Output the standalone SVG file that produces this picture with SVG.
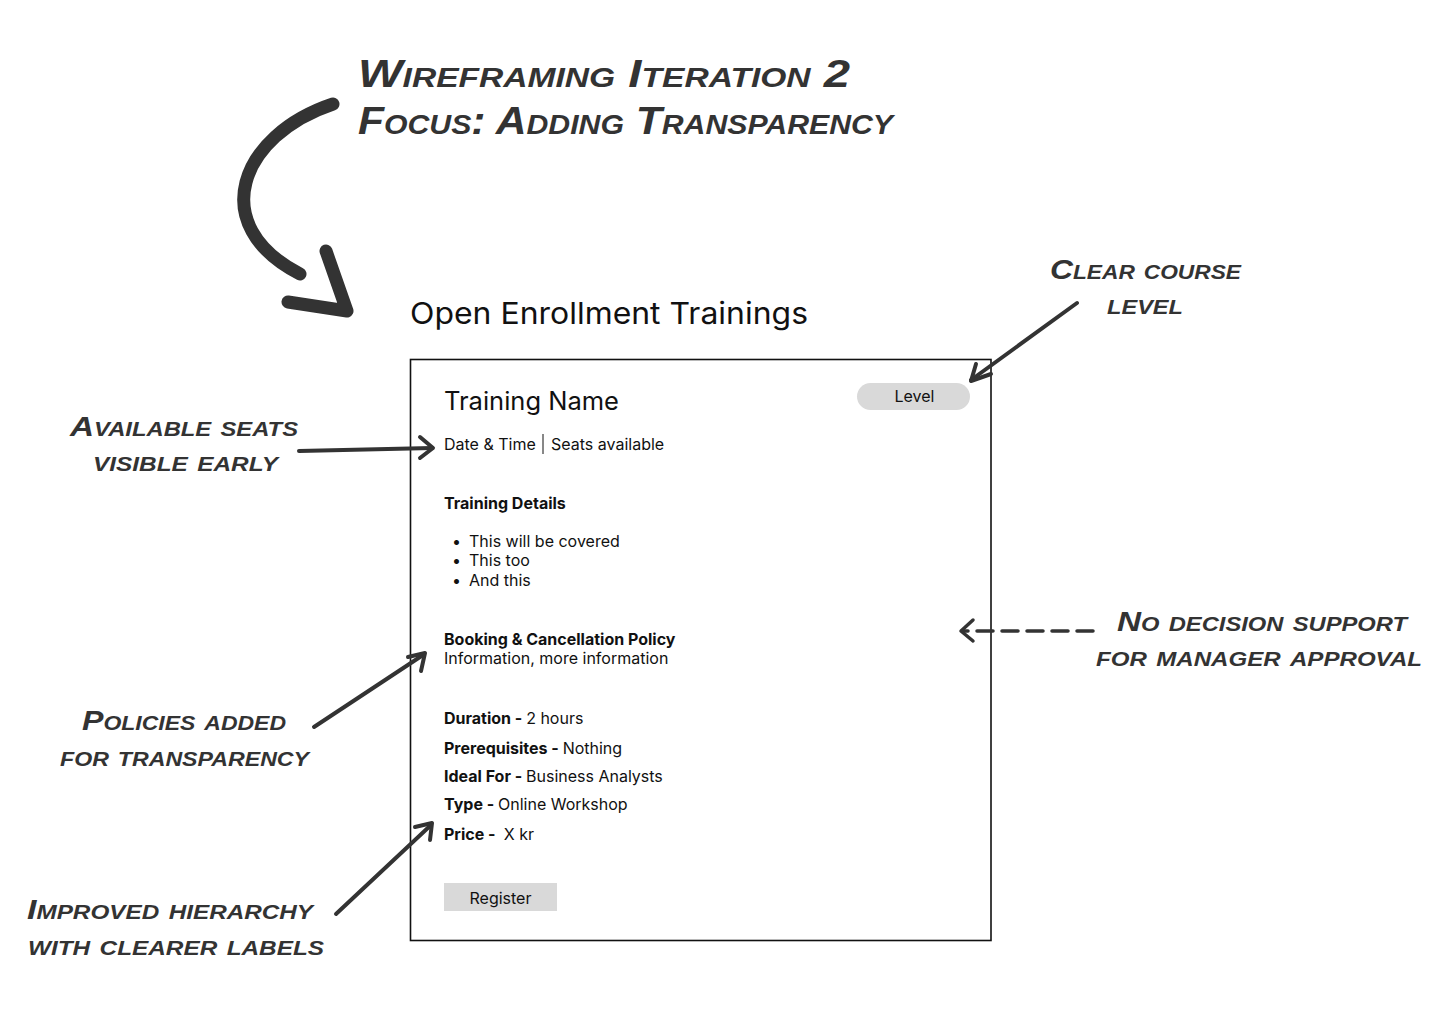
<svg xmlns="http://www.w3.org/2000/svg" width="1444" height="1016" viewBox="0 0 1444 1016">
<style>
.hand{font-family:"Liberation Sans",Arial,sans-serif;font-weight:bold;font-style:italic;font-variant:small-caps;fill:#333;}
.t{font-size:38px;}
.a{font-size:28px;}
.ui{font-family:Inter,"Liberation Sans",Arial,sans-serif;fill:#111;}
.s16{font-size:16px;}
.b{font-weight:700;}
.conn{fill:none;stroke:#333;stroke-linecap:round;stroke-linejoin:round;}
</style>
<rect width="1444" height="1016" fill="#ffffff"/>
<g id="title">
<text class="hand t" x="358" y="87" textLength="492" lengthAdjust="spacingAndGlyphs">Wireframing Iteration 2</text>
<text class="hand t" x="358" y="134" textLength="535" lengthAdjust="spacingAndGlyphs">Focus: Adding Transparency</text>
</g>
<g id="page-title">
<text class="ui" x="410" y="324" font-size="30" textLength="398" lengthAdjust="spacingAndGlyphs">Open Enrollment Trainings</text>
</g>
<g id="card">
<rect x="410.5" y="359.5" width="580.5" height="581" fill="#fff" stroke="#111" stroke-width="1.6"/>
<text class="ui" x="444" y="410" font-size="25" textLength="175" lengthAdjust="spacingAndGlyphs">Training Name</text>
<g id="level-pill">
<rect x="857" y="383" width="113" height="27" rx="13.5" fill="#d9d9d9"/>
<text class="ui s16" x="914.5" y="402" text-anchor="middle">Level</text>
</g>
<text class="ui s16" x="444" y="450">Date &amp; Time</text>
<line x1="543" y1="434" x2="543" y2="454" stroke="#111" stroke-width="1"/>
<text class="ui s16" x="551" y="450">Seats available</text>
<text class="ui s16 b" x="444" y="509">Training Details</text>
<text class="ui s16" x="452" y="547">•</text>
<text class="ui s16" x="469" y="547">This will be covered</text>
<text class="ui s16" x="452" y="566">•</text>
<text class="ui s16" x="469" y="566">This too</text>
<text class="ui s16" x="452" y="586">•</text>
<text class="ui s16" x="469" y="586">And this</text>
<text class="ui s16 b" x="444" y="645">Booking &amp; Cancellation Policy</text>
<text class="ui s16" x="444" y="664">Information, more information</text>
<text class="ui s16" x="444" y="724"><tspan class="b">Duration - </tspan>2 hours</text>
<text class="ui s16" x="444" y="754"><tspan class="b">Prerequisites - </tspan>Nothing</text>
<text class="ui s16" x="444" y="782"><tspan class="b">Ideal For - </tspan>Business Analysts</text>
<text class="ui s16" x="444" y="810"><tspan class="b">Type - </tspan>Online Workshop</text>
<text class="ui s16" x="444" y="840" xml:space="preserve"><tspan class="b">Price - </tspan> X kr</text>
<g id="register-button">
<rect x="444" y="883" width="113" height="28" fill="#d9d9d9"/>
<text class="ui s16" x="500.5" y="904" text-anchor="middle">Register</text>
</g>
</g>
<g id="note-level">
<text class="hand a" x="1050" y="279" textLength="191" lengthAdjust="spacingAndGlyphs">Clear course</text>
<text class="hand a" x="1107" y="314" textLength="76" lengthAdjust="spacingAndGlyphs">level</text>
</g>
<g id="note-seats">
<text class="hand a" x="70" y="436" textLength="228" lengthAdjust="spacingAndGlyphs">Available seats</text>
<text class="hand a" x="93" y="471" textLength="185" lengthAdjust="spacingAndGlyphs">visible early</text>
</g>
<g id="note-decision">
<text class="hand a" x="1117" y="631" textLength="290" lengthAdjust="spacingAndGlyphs">No decision support</text>
<text class="hand a" x="1096" y="666" textLength="326" lengthAdjust="spacingAndGlyphs">for manager approval</text>
</g>
<g id="note-policies">
<text class="hand a" x="82" y="730" textLength="204" lengthAdjust="spacingAndGlyphs">Policies added</text>
<text class="hand a" x="60" y="766" textLength="249" lengthAdjust="spacingAndGlyphs">for transparency</text>
</g>
<g id="note-hierarchy">
<text class="hand a" x="27" y="919" textLength="286" lengthAdjust="spacingAndGlyphs">Improved hierarchy</text>
<text class="hand a" x="28" y="955" textLength="296" lengthAdjust="spacingAndGlyphs">with clearer labels</text>
</g>
<g id="connectors">
<path class="conn" stroke-width="13" d="M333 104 C240 135 205 225 300 274"/>
<path class="conn" stroke-width="13" d="M326 251 L347 311 L288 302"/>
<path class="conn" stroke-width="4" d="M1077 303 L971 380"/>
<path class="conn" stroke-width="4" d="M976 364 L971 381 L991 374"/>
<path class="conn" stroke-width="4" d="M299 451 L432 448"/>
<path class="conn" stroke-width="4" d="M420 437 L433 448 L420 458"/>
<path class="conn" stroke-width="4" d="M314 727 L423 655"/>
<path class="conn" stroke-width="4" d="M408 657 L425 653 L421 671"/>
<path class="conn" stroke-width="4" d="M336 914 L431 825"/>
<path class="conn" stroke-width="4" d="M415 827 L432 823 L430 840"/>
<path class="conn" stroke-width="3.5" stroke-linecap="butt" stroke-dasharray="16 9" d="M1093 631 L962 631"/>
<path class="conn" stroke-width="3.5" d="M973 620 L961 631 L973 641"/>
</g>
</svg>
